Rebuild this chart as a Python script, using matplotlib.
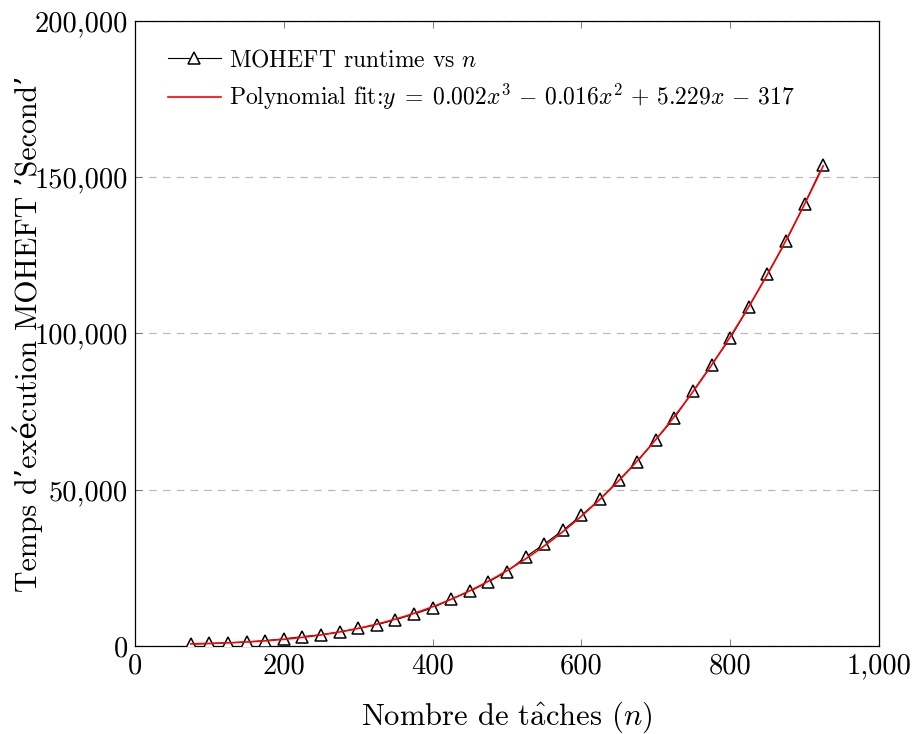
import numpy as np
import matplotlib
matplotlib.use("Agg")
import matplotlib.pyplot as plt
from matplotlib.ticker import FuncFormatter, MultipleLocator

n_tasks = [75, 100, 125, 150, 175, 200, 225, 250, 275, 300, 325, 350, 375, 400,
           425, 450, 475, 500, 525, 550, 575, 600, 625, 650, 675, 700, 725, 750,
           775, 800, 825, 850, 875, 900, 925]
runtime = [600, 800, 1000, 1300, 1700, 2300, 3000, 3600, 4500, 5600, 6800, 8400,
           10200, 12200, 15000, 17500, 20500, 23800, 28500, 32600, 37000, 41800,
           47000, 53000, 59000, 66000, 73000, 81500, 90000, 98500, 108500, 119000,
           129500, 141500, 154000]

label_data = "MOHEFT runtime vs $n$"
label_fit = (r"Polynomial fit:$y\;=\;0.002x^3\,-\,0.016x^2\,+\,5.229x\,-\,317$")
xlabel = r"Nombre de t$\hat{\mathrm{a}}$ches ($n$)"
ylabel = "Temps d’exécution MOHEFT ’Second’"

plt.rcParams['font.family'] = ['cmr10', 'DejaVu Serif']
plt.rcParams['mathtext.fontset'] = 'cm'
plt.rcParams['axes.formatter.use_mathtext'] = True

fig = plt.figure(figsize=(9.16, 7.34), dpi=100)
ax = fig.add_axes([0.1474, 0.1199, 0.8122, 0.8515])

x = np.array(n_tasks, dtype=float)
y = np.array(runtime, dtype=float)
coef = np.polyfit(x, y, 3)
xf = np.linspace(x.min(), x.max(), 300)
yf = np.polyval(coef, xf)

ax.plot(x, y, color='black', lw=0.8, marker='^', markersize=8,
        markerfacecolor='white', markeredgecolor='black', markeredgewidth=1.1,
        label=label_data, zorder=3)
ax.plot(xf, yf, color='red', lw=1.2, label=label_fit, zorder=4)

ax.set_xlim(0, 1000)
ax.set_ylim(0, 200000)
ax.xaxis.set_major_locator(MultipleLocator(200))
ax.yaxis.set_major_locator(MultipleLocator(50000))
fmt = FuncFormatter(lambda v, p: f"{v:,.0f}")
ax.xaxis.set_major_formatter(fmt)
ax.yaxis.set_major_formatter(fmt)
ax.tick_params(direction='in', top=True, right=True, labelsize=20.5, length=5,
               width=0.6, color='#666666', pad=5)
ax.yaxis.grid(True, linestyle=(0, (6, 5)), color='#bbbbbb', lw=0.9)
ax.set_axisbelow(True)
for s in ax.spines.values():
    s.set_linewidth(0.9)

ax.set_xlabel(xlabel, fontsize=22, va='center')
ax.xaxis.set_label_coords(0.5, -0.1136)
ax.set_ylabel(ylabel, fontsize=21.5, va='center')
ax.yaxis.set_label_coords(-0.144, 0.5)

ax.legend(loc='upper left', frameon=False, fontsize=17, handlelength=2.25,
          handletextpad=0.35, labelspacing=0.45, borderpad=0.0,
          borderaxespad=0.0, bbox_to_anchor=(0.044, 0.955))

fig.savefig("out.png", dpi=100)
